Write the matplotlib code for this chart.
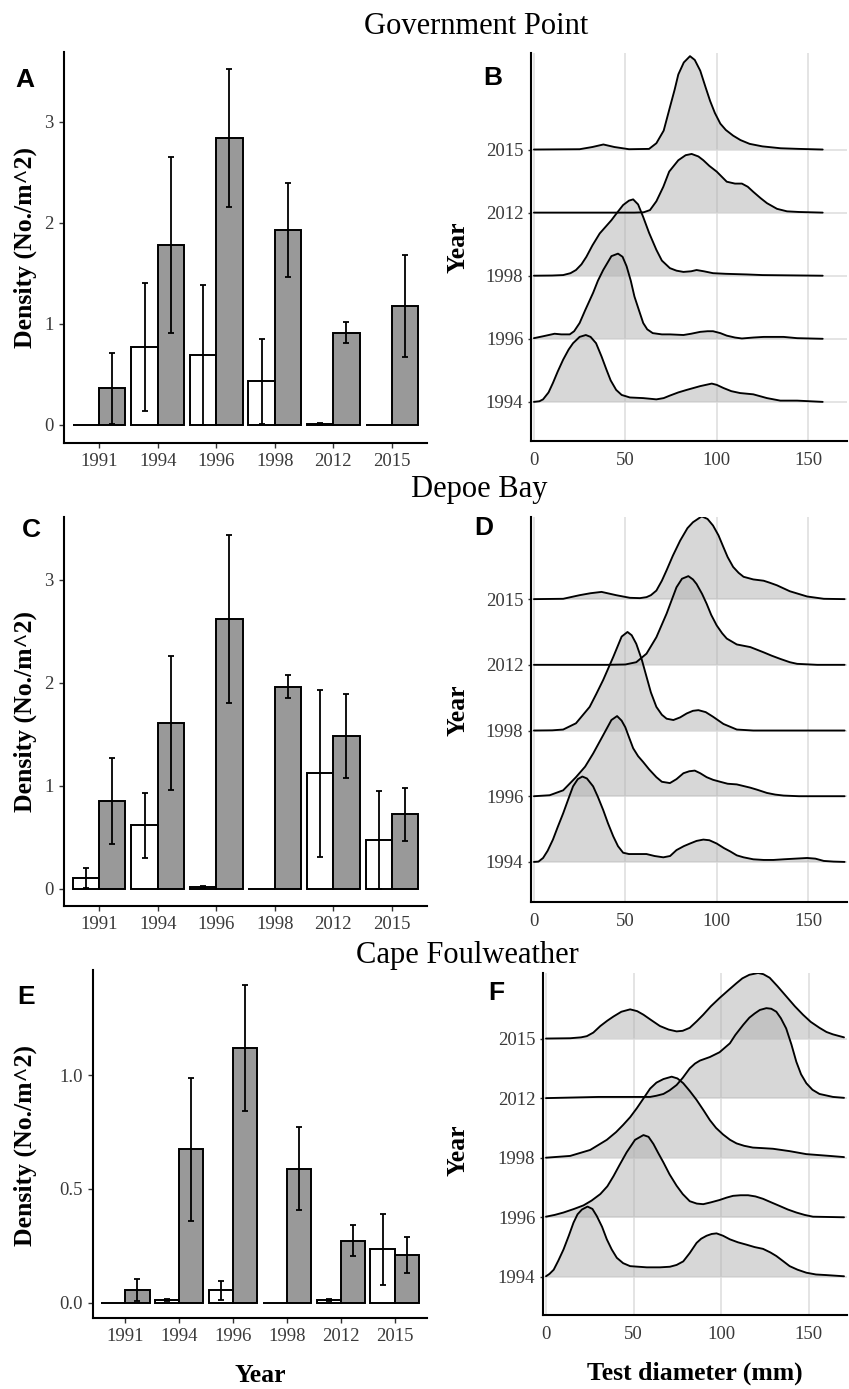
import matplotlib
matplotlib.use("Agg")
import matplotlib.pyplot as plt
import numpy as np

plt.rcParams['font.family'] = ['Liberation Serif', 'DejaVu Serif']

# ---------------- data ----------------
YEARS = ['1991', '1994', '1996', '1998', '2012', '2015']
RIDGE_YEARS = ['1994', '1996', '1998', '2012', '2015']

# Bar panels: white = first class, grey = second class (mean +/- se)
A_WHITE = [0, 0.77, 0.69, 0.43, 0.01, 0]
A_WHITE_SE = [0, 0.63, 0.69, 0.42, 0.008, 0]
A_GREY = [0.36, 1.78, 2.84, 1.93, 0.91, 1.18]
A_GREY_SE = [0.355, 0.87, 0.68, 0.465, 0.105, 0.505]

C_WHITE = [0.10, 0.615, 0.015, 0, 1.12, 0.475]
C_WHITE_SE = [0.095, 0.315, 0.012, 0, 0.81, 0.475]
C_GREY = [0.85, 1.61, 2.62, 1.96, 1.48, 0.72]
C_GREY_SE = [0.42, 0.65, 0.815, 0.11, 0.41, 0.26]

E_WHITE = [0, 0.01, 0.053, 0, 0.01, 0.234]
E_WHITE_SE = [0, 0.005, 0.04, 0, 0.005, 0.156]
E_GREY = [0.056, 0.673, 1.117, 0.589, 0.271, 0.209]
E_GREY_SE = [0.048, 0.313, 0.277, 0.183, 0.068, 0.08]

# Ridge panels: test diameter (mm) and ridge height (in row units)
B_X_2015 = [0, 25, 32, 38, 44, 52, 63, 67, 71, 74.4, 77, 79, 82, 85.4, 88, 91, 94, 96.4, 99, 102, 105, 109, 113, 118, 125, 135, 145, 158]
B_H_2015 = [0, 0.005, 0.04, 0.08, 0.04, 0.005, 0.01, 0.1, 0.3, 0.67, 0.95, 1.19, 1.38, 1.48, 1.42, 1.25, 0.98, 0.77, 0.58, 0.41, 0.31, 0.22, 0.15, 0.09, 0.05, 0.02, 0.01, 0]
B_X_2012 = [0, 30, 55, 60, 63.5, 67, 70.8, 74, 79, 83, 86.3, 90, 92.7, 96, 100, 105.5, 110, 113.8, 117, 120, 124, 127.5, 133, 138.5, 145, 158]
B_H_2012 = [0, 0, 0, 0.005, 0.04, 0.18, 0.41, 0.65, 0.83, 0.91, 0.93, 0.89, 0.83, 0.74, 0.65, 0.49, 0.46, 0.46, 0.41, 0.33, 0.23, 0.15, 0.06, 0.02, 0.01, 0]
B_X_1998 = [0, 10, 16, 20, 23, 26, 28.7, 32, 36, 42.4, 45, 48.8, 52, 54.3, 57, 59.8, 63, 67, 70, 74.4, 78, 81.8, 86, 89, 93, 98, 105, 116.5, 125, 158]
B_H_1998 = [0, 0.003, 0.01, 0.04, 0.09, 0.18, 0.30, 0.48, 0.67, 0.88, 0.98, 1.12, 1.19, 1.21, 1.13, 0.93, 0.68, 0.41, 0.24, 0.12, 0.08, 0.06, 0.07, 0.09, 0.07, 0.04, 0.03, 0.02, 0.01, 0]
B_X_1996 = [0, 5, 11.3, 15, 19.6, 22, 25, 28, 32.4, 35, 37.9, 42.4, 46, 48.5, 50.7, 53, 55, 57.5, 59.8, 62, 65, 70, 74.4, 81.8, 86, 91, 95, 98, 102, 105.5, 110, 113.8, 120, 125.7, 136.6, 144, 158]
B_H_1996 = [0.01, 0.04, 0.08, 0.07, 0.07, 0.12, 0.25, 0.45, 0.73, 0.92, 1.09, 1.31, 1.35, 1.30, 1.15, 0.92, 0.67, 0.45, 0.25, 0.15, 0.09, 0.07, 0.07, 0.06, 0.08, 0.11, 0.12, 0.12, 0.09, 0.05, 0.02, 0.005, 0.02, 0.03, 0.03, 0.01, 0]
B_X_1994 = [0, 3, 5, 8, 10.4, 13, 16, 19, 21.4, 25, 28.4, 31, 34, 37, 39.7, 42, 45, 48, 52.5, 59.8, 67, 71, 74.4, 79, 83.6, 91, 97.3, 100, 103.7, 108, 112.8, 120, 127.5, 134.8, 144, 158]
B_H_1994 = [0.0, 0.01, 0.04, 0.15, 0.30, 0.48, 0.67, 0.83, 0.93, 1.03, 1.06, 1.03, 0.93, 0.72, 0.51, 0.34, 0.19, 0.11, 0.07, 0.06, 0.04, 0.06, 0.10, 0.15, 0.19, 0.25, 0.29, 0.27, 0.22, 0.17, 0.14, 0.12, 0.06, 0.02, 0.02, 0]

D_X_2015 = [0, 16, 25, 31, 37, 45, 52.5, 58, 61.6, 64, 67, 70, 72.6, 76, 80, 84, 87, 91.8, 95, 98, 101, 103.7, 106, 109, 112, 114.7, 120, 125.7, 129, 133, 140, 149.5, 158.6, 170]
D_H_2015 = [0, 0.005, 0.06, 0.09, 0.11, 0.06, 0.02, 0.015, 0.03, 0.06, 0.13, 0.28, 0.44, 0.66, 0.89, 1.08, 1.17, 1.26, 1.22, 1.12, 0.97, 0.79, 0.64, 0.49, 0.40, 0.34, 0.30, 0.28, 0.25, 0.21, 0.12, 0.04, 0.005, 0]
D_X_2012 = [0, 40, 50, 56, 61.6, 67, 72.6, 78, 81, 84.5, 87, 89, 92, 94.5, 97, 100, 103, 105.5, 111, 118.4, 125.7, 130, 134.8, 140, 144, 155, 170]
D_H_2012 = [0, 0, 0.005, 0.04, 0.17, 0.42, 0.78, 1.18, 1.31, 1.35, 1.30, 1.23, 1.08, 0.93, 0.76, 0.60, 0.48, 0.40, 0.31, 0.27, 0.19, 0.14, 0.09, 0.04, 0.015, 0, 0]
D_X_1998 = [0, 10, 16, 23, 30.5, 34, 37.9, 43.4, 48, 51.2, 53.5, 56, 59, 61.6, 64, 67, 70, 72.6, 76.3, 80, 83.6, 87, 90, 94, 98, 103.7, 111, 120, 170]
D_H_1998 = [0, 0.003, 0.015, 0.11, 0.36, 0.55, 0.77, 1.12, 1.43, 1.50, 1.45, 1.32, 1.08, 0.82, 0.58, 0.36, 0.24, 0.18, 0.16, 0.20, 0.26, 0.30, 0.31, 0.28, 0.21, 0.10, 0.015, 0, 0]
D_X_1996 = [0, 8.6, 16, 23, 28, 32.4, 37.9, 42.4, 45.5, 48, 50, 52, 54.3, 57, 59.8, 63, 67, 70, 74.4, 78, 81.8, 85, 88, 91, 94.5, 98, 101.9, 106, 111, 118.4, 122, 127.5, 132, 136.6, 145, 170]
D_H_1996 = [0, 0.015, 0.09, 0.29, 0.45, 0.65, 0.93, 1.16, 1.22, 1.15, 1.05, 0.90, 0.73, 0.61, 0.52, 0.41, 0.29, 0.22, 0.20, 0.26, 0.35, 0.38, 0.39, 0.35, 0.29, 0.25, 0.22, 0.19, 0.18, 0.13, 0.10, 0.05, 0.025, 0.01, 0, 0]
D_X_1994 = [0, 2.5, 5, 7.5, 10.4, 13, 16, 19, 21.4, 24, 26.5, 29, 32.4, 35, 37.9, 40.5, 43.4, 46, 48.8, 52, 56, 61.6, 66, 70.8, 74.5, 78, 82, 85.4, 89, 92.7, 96, 100, 104, 107.4, 111, 114.7, 120, 125.7, 131, 136.6, 143, 149.5, 154, 158.6, 164, 170]
D_H_1994 = [0, 0.005, 0.06, 0.17, 0.34, 0.53, 0.74, 0.97, 1.15, 1.26, 1.30, 1.27, 1.15, 0.99, 0.79, 0.59, 0.39, 0.24, 0.14, 0.12, 0.12, 0.12, 0.09, 0.07, 0.09, 0.18, 0.24, 0.28, 0.32, 0.34, 0.33, 0.28, 0.21, 0.16, 0.10, 0.07, 0.04, 0.03, 0.03, 0.04, 0.05, 0.06, 0.05, 0.015, 0.005, 0]

F_X_2015 = [0, 13.8, 20, 23.3, 27, 31, 35, 38.5, 43, 48, 52, 55.6, 60, 65, 70, 74.5, 78, 82, 86, 89.7, 94, 99, 104, 108.7, 112, 116, 121, 124, 127.6, 132, 137, 142, 146.6, 151, 156, 160, 163.7, 170]
F_H_2015 = [0, 0.005, 0.02, 0.04, 0.10, 0.21, 0.30, 0.37, 0.45, 0.49, 0.46, 0.40, 0.31, 0.21, 0.15, 0.12, 0.13, 0.18, 0.29, 0.40, 0.54, 0.68, 0.81, 0.93, 1.01, 1.07, 1.10, 1.08, 1.02, 0.88, 0.71, 0.54, 0.40, 0.28, 0.18, 0.11, 0.07, 0.02]
F_X_2012 = [0, 30, 59.4, 63, 67, 70.5, 74.5, 78, 82, 85, 87.8, 93.5, 99, 104.9, 108, 112.5, 116, 119, 122, 125.7, 128.5, 131.4, 134, 137, 140, 142.8, 145.5, 148.5, 152, 156, 163.7, 170]
F_H_2012 = [0.0, 0.02, 0.02, 0.04, 0.07, 0.13, 0.22, 0.34, 0.50, 0.58, 0.63, 0.69, 0.77, 0.92, 1.06, 1.23, 1.35, 1.42, 1.48, 1.51, 1.50, 1.45, 1.34, 1.17, 0.90, 0.61, 0.40, 0.25, 0.14, 0.07, 0.02, 0.005]
F_X_1998 = [0, 13.8, 25.2, 34.7, 40, 44, 48, 51.8, 55.5, 59.4, 63, 67, 71.7, 75, 78.3, 82, 85.9, 90, 93.5, 97, 101, 105, 108.7, 113, 118, 124, 129.5, 139, 148.5, 161.8, 170]
F_H_1998 = [0, 0.03, 0.13, 0.30, 0.43, 0.55, 0.68, 0.83, 0.99, 1.16, 1.26, 1.32, 1.36, 1.33, 1.25, 1.12, 0.97, 0.79, 0.63, 0.50, 0.39, 0.30, 0.24, 0.20, 0.17, 0.16, 0.15, 0.11, 0.06, 0.03, 0.01]
F_X_1996 = [0, 5, 10, 16, 21.4, 26, 31, 35, 38.5, 42, 46, 50.8, 55.6, 58.5, 61.3, 64, 67, 70.5, 74.5, 78, 82, 86, 89.7, 94, 99, 103, 106.7, 111, 115.3, 119.5, 123.8, 128.5, 133.3, 138, 142.8, 147.5, 152.3, 170]
F_H_1996 = [0.01, 0.04, 0.08, 0.14, 0.20, 0.28, 0.39, 0.52, 0.69, 0.88, 1.09, 1.30, 1.38, 1.35, 1.23, 1.08, 0.92, 0.72, 0.53, 0.39, 0.27, 0.23, 0.22, 0.25, 0.29, 0.33, 0.36, 0.37, 0.37, 0.35, 0.31, 0.25, 0.19, 0.13, 0.08, 0.04, 0.01, 0]
F_X_1994 = [0, 2, 4.4, 7, 10, 13, 15.7, 18, 20.5, 23.7, 26.5, 29, 32, 34.7, 37.5, 40.4, 44, 48, 57.5, 65, 70.7, 74.5, 78.3, 82, 85.9, 88.5, 91.6, 94.5, 97.3, 101, 104.9, 109.5, 114.4, 119, 123.8, 128, 131.4, 135, 139, 143.5, 148.5, 154, 159.9, 170]
F_H_1994 = [0.01, 0.05, 0.12, 0.27, 0.46, 0.69, 0.91, 1.05, 1.13, 1.18, 1.14, 1.02, 0.84, 0.63, 0.46, 0.32, 0.23, 0.18, 0.16, 0.16, 0.17, 0.20, 0.26, 0.40, 0.57, 0.64, 0.69, 0.72, 0.73, 0.69, 0.63, 0.58, 0.54, 0.50, 0.47, 0.41, 0.35, 0.27, 0.18, 0.12, 0.07, 0.04, 0.03, 0.01]

SITES = ['Government Point', 'Depoe Bay', 'Cape Foulweather']

# ---------------- figure ----------------
W, H = 849, 1389
fig = plt.figure(figsize=(W / 100, H / 100), dpi=100)
fig.patch.set_facecolor('white')

TICK_COL = '#3a3a3a'
GRID_COL = '#dcdcdc'


def add_ax(l, t, r, b):
    return fig.add_axes([l / W, 1 - b / H, (r - l) / W, (b - t) / H])


def ftext(x, y, s, **kw):
    fig.text(x / W, 1 - y / H, s, **kw)


def style_axes(ax):
    for s in ['top', 'right']:
        ax.spines[s].set_visible(False)
    for s in ['left', 'bottom']:
        ax.spines[s].set_linewidth(1.5)
        ax.spines[s].set_color('black')
    ax.tick_params(axis='both', labelsize=13.5, labelcolor=TICK_COL, color='#333333',
                   length=3.5, width=1.0, pad=4)


def bar_panel(ax, white, white_se, grey, grey_se, ylim, yticks, yticklabels):
    x = np.arange(len(YEARS))
    w = 0.45
    ax.bar(x - w / 2, white, width=w, color='white', edgecolor='black', linewidth=1.4, zorder=2)
    ax.bar(x + w / 2, grey, width=w, color='#999999', edgecolor='black', linewidth=1.4, zorder=2)
    for off, m, se in [(-w / 2, white, white_se), (w / 2, grey, grey_se)]:
        m = np.asarray(m, float)
        se = np.asarray(se, float)
        k = se > 0
        ax.errorbar(x[k] + off, m[k], yerr=se[k], fmt='none', ecolor='black',
                    elinewidth=1.3, capsize=2.5, capthick=1.3, zorder=3)
    ax.set_xlim(-0.6, 5.6)
    ax.set_ylim(*ylim)
    ax.set_xticks(x)
    ax.set_xticklabels(YEARS)
    ax.set_yticks(yticks)
    ax.set_yticklabels(yticklabels)
    style_axes(ax)


def ridge_panel(ax, xs, hs, xlim, ylim):
    pos = np.arange(1, len(RIDGE_YEARS) + 1)
    for p in pos:
        ax.axhline(p, color=GRID_COL, lw=1.1, zorder=0)
    for gx in [0, 50, 100, 150]:
        ax.axvline(gx, color=GRID_COL, lw=1.1, zorder=0)
    for p, xv, hv in sorted(zip(pos, xs, hs), key=lambda t: -t[0]):
        xv = np.asarray(xv, float)
        hv = np.asarray(hv, float)
        ax.fill_between(xv, p, p + hv, facecolor='#b0b0b0', alpha=0.5, lw=0, zorder=1)
    for p, xv, hv in sorted(zip(pos, xs, hs), key=lambda t: -t[0]):
        xv = np.asarray(xv, float)
        hv = np.asarray(hv, float)
        ax.plot(xv, p + hv, color='black', lw=1.35, zorder=2,
                solid_joinstyle='round', solid_capstyle='round')
    ax.set_xlim(*xlim)
    ax.set_ylim(*ylim)
    ax.set_xticks([0, 50, 100, 150])
    ax.set_yticks(pos)
    ax.set_yticklabels(RIDGE_YEARS)
    style_axes(ax)
    ax.tick_params(axis='x', length=0, pad=8)
    ax.tick_params(axis='y', length=2.5, pad=3)


# Panel A
axA = add_ax(64, 52, 427, 443)
bar_panel(axA, A_WHITE, A_WHITE_SE, A_GREY, A_GREY_SE, (-0.18, 3.69), [0, 1, 2, 3], ['0', '1', '2', '3'])
# Panel C
axC = add_ax(64, 517, 427, 906)
bar_panel(axC, C_WHITE, C_WHITE_SE, C_GREY, C_GREY_SE, (-0.17, 3.61), [0, 1, 2, 3], ['0', '1', '2', '3'])
# Panel E
axE = add_ax(93, 970, 427, 1318)
bar_panel(axE, E_WHITE, E_WHITE_SE, E_GREY, E_GREY_SE, (-0.068, 1.462), [0, 0.5, 1.0], ['0.0', '0.5', '1.0'])

# Panel B
axB = add_ax(531, 53, 847, 441)
ridge_panel(axB, [B_X_1994, B_X_1996, B_X_1998, B_X_2012, B_X_2015],
            [B_H_1994, B_H_1996, B_H_1998, B_H_2012, B_H_2015], (-1.6, 171.3), (0.38, 6.53))
# Panel D
axD = add_ax(531, 517, 847, 902)
ridge_panel(axD, [D_X_1994, D_X_1996, D_X_1998, D_X_2012, D_X_2015],
            [D_H_1994, D_H_1996, D_H_1998, D_H_2012, D_H_2015], (-1.6, 171.3), (0.39, 6.25))
# Panel F
axF = add_ax(543, 973, 847, 1315)
ridge_panel(axF, [F_X_1994, F_X_1996, F_X_1998, F_X_2012, F_X_2015],
            [F_H_1994, F_H_1996, F_H_1998, F_H_2012, F_H_2015], (-1.7, 171.7), (0.36, 6.10))

# Axis labels
lab_kw = dict(fontsize=18.5, fontweight='bold', ha='center', va='center', rotation=90)
ftext(25, 248, 'Density (No./m^2)', **lab_kw)
ftext(25, 711, 'Density (No./m^2)', **lab_kw)
ftext(25, 1145, 'Density (No./m^2)', **lab_kw)
ftext(458, 247, 'Year', **lab_kw)
ftext(458, 710, 'Year', **lab_kw)
ftext(458, 1150, 'Year', **lab_kw)
ftext(260, 1375, 'Year', fontsize=18.5, fontweight='bold', ha='center', va='center')
ftext(695, 1373, 'Test diameter (mm)', fontsize=18.5, fontweight='bold', ha='center', va='center')

# Site titles
ftext(476, 27, SITES[0], fontsize=22, ha='center', va='center')
ftext(479, 490, SITES[1], fontsize=22, ha='center', va='center')
ftext(467, 955, SITES[2], fontsize=22, ha='center', va='center')

# Panel letters
let_kw = dict(fontsize=19, fontweight='bold', ha='center', va='center', family=['Liberation Sans', 'DejaVu Sans'])
for s, (x, y) in zip('ABCDEF', [(25, 80), (493, 78), (31, 530), (484, 528), (26, 997), (496, 993)]):
    ftext(x, y, s, **let_kw)

fig.savefig('out.png', dpi=100)
